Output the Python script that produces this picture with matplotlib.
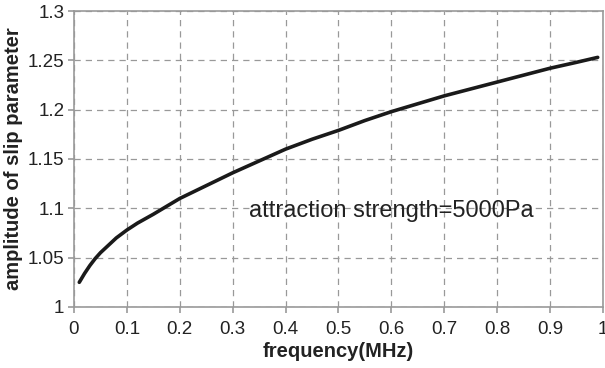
import matplotlib
matplotlib.use("Agg")
import matplotlib.pyplot as plt
from matplotlib.ticker import FuncFormatter

plt.rcParams['font.family'] = ['Liberation Sans', 'DejaVu Sans']

freq = [0.01, 0.02, 0.03, 0.04, 0.05, 0.06, 0.07, 0.08, 0.09, 0.10, 0.12, 0.15,
        0.20, 0.25, 0.30, 0.35, 0.40, 0.45, 0.50, 0.55, 0.60, 0.65, 0.70, 0.75,
        0.80, 0.85, 0.90, 0.95, 0.99]
amp = [1.025, 1.034, 1.042, 1.049, 1.055, 1.060, 1.065, 1.070, 1.074, 1.078, 1.085, 1.094,
       1.110, 1.123, 1.136, 1.148, 1.160, 1.170, 1.179, 1.189, 1.198, 1.206, 1.214, 1.221,
       1.228, 1.235, 1.242, 1.248, 1.253]
x_ticks = [0, 0.1, 0.2, 0.3, 0.4, 0.5, 0.6, 0.7, 0.8, 0.9, 1]
y_ticks = [1, 1.05, 1.1, 1.15, 1.2, 1.25, 1.3]
annotation = "attraction strength=5000Pa"

fig = plt.figure(figsize=(6.05, 3.68), dpi=100)
ax = fig.add_axes([0.1223, 0.1658, 0.9967 - 0.1223, 0.9701 - 0.1658])

ax.plot(freq, amp, color='#1a1a1a', lw=2.6, solid_capstyle='round', zorder=3)

ax.set_xlim(0, 1)
ax.set_ylim(1, 1.3)
ax.set_xticks(x_ticks)
ax.set_yticks(y_ticks)
ax.xaxis.set_major_formatter(FuncFormatter(lambda v, p: ('%g' % round(v, 2))))
ax.yaxis.set_major_formatter(FuncFormatter(lambda v, p: ('%g' % round(v, 2))))

ax.grid(True, color='#999999', linestyle=(0, (5, 4)), linewidth=0.9)
for s in ax.spines.values():
    s.set_color('#999999')
    s.set_linewidth(1.2)
ax.tick_params(axis='both', direction='out', length=4, width=1.2, color='#999999',
               labelsize=13.5, labelcolor='#222222')
ax.tick_params(axis='x', pad=6)
ax.tick_params(axis='y', pad=3)
ax.tick_params(top=False, right=False)

ax.set_xlabel('frequency(MHz)', fontsize=14.5, fontweight='bold', color='#222222', labelpad=3)
ax.set_ylabel('amplitude of slip parameter', fontsize=14.5, fontweight='bold', color='#222222', labelpad=3)

ax.text(0.33, 1.097, annotation, fontsize=17, color='#222222', va='center', ha='left')

fig.savefig('out.png', dpi=100)
